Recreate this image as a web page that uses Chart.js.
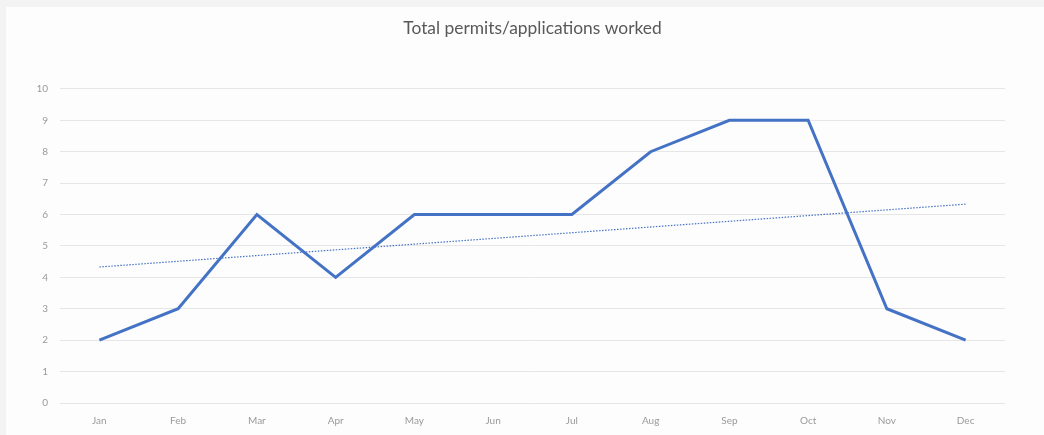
<!DOCTYPE html>
<html>
<head>
<meta charset="utf-8">
<script src="https://cdn.jsdelivr.net/npm/chart.js@4"></script>
<style>
  body { margin: 0; background: #f3f3f3; width: 1044px; height: 435px; overflow: hidden; }
  #wrap { position: absolute; left: 6px; top: 7px; width: 1038px; height: 428px; background: #fdfdfd; }
</style>
</head>
<body>
<div id="wrap"><canvas id="chart" width="1038" height="428"></canvas></div>
<script>
const months = ["Jan", "Feb", "Mar", "Apr", "May", "Jun", "Jul", "Aug", "Sep", "Oct", "Nov", "Dec"];
const permits = [2, 3, 6, 4, 6, 6, 6, 8, 9, 9, 3, 2];
// trendline endpoints
const trend = [4.33, null, null, null, null, null, null, null, null, null, null, 6.33];

const tickFont = { family: "Lato", size: 10 };

new Chart(document.getElementById("chart"), {
  type: "line",
  data: {
    labels: months,
    datasets: [
      {
        label: "Permits",
        data: permits,
        borderColor: "#4472C4",
        borderWidth: 3,
        pointRadius: 0,
        tension: 0,
      },
      {
        label: "Trend",
        data: trend,
        borderColor: "#4472C4",
        borderWidth: 1.2,
        borderDash: [1.5, 1.5],
        pointRadius: 0,
        spanGaps: true,
      },
    ],
  },
  options: {
    responsive: false,
    animation: false,
    layout: { padding: { left: 0, right: 39, top: 0, bottom: 4 } },
    plugins: {
      legend: { display: false },
      tooltip: { enabled: false },
      title: {
        display: true,
        fullSize: false,
        text: "Total permits/applications worked",
        color: "#595959",
        font: { family: "Lato", size: 17.4, weight: "normal" },
        padding: { top: 11, bottom: 50 },
      },
    },
    scales: {
      x: {
        offset: true,
        grid: { display: false },
        border: { display: false },
        ticks: { color: "#9a9a9a", font: tickFont, padding: 4, maxRotation: 0 },
      },
      y: {
        min: 0,
        max: 10,
        grid: { color: "#e6e6e6", drawTicks: false },
        border: { display: false },
        ticks: { stepSize: 1, color: "#9a9a9a", font: tickFont, padding: 12 },
        afterFit: (scale) => { scale.width = 54; },
      },
    },
  },
});
</script>
</body>
</html>
